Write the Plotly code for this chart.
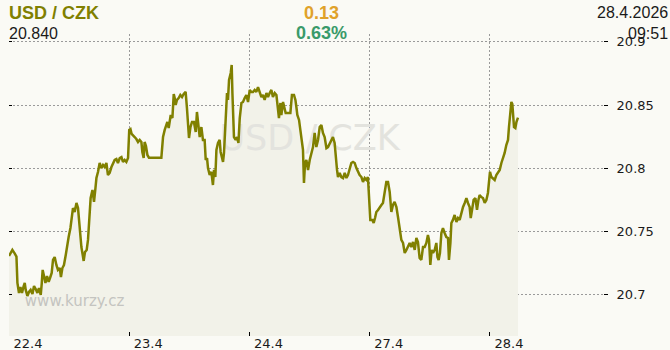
import plotly.graph_objects as go

# ---- data (USD/CZK intraday, position within trading day, rate) ----
day_labels = ["22.4", "23.4", "24.4", "27.4", "28.4"]

d22 = [(0.000,20.7307),(0.028,20.7355),(0.047,20.7328),(0.062,20.7302),(0.070,20.7094),(0.083,20.7015),
       (0.095,20.7062),(0.108,20.7015),(0.122,20.7070),(0.131,20.7094),(0.139,20.7039),(0.153,20.6991),
       (0.166,20.7023),(0.180,20.7039),(0.195,20.7007),(0.208,20.7070),(0.222,20.7046),(0.236,20.7015),
       (0.249,20.7054),(0.264,20.6999),(0.272,20.7086),(0.280,20.7197),(0.291,20.7149),(0.303,20.7094),
       (0.316,20.7149),(0.330,20.7102),(0.344,20.7141),(0.355,20.7173),(0.366,20.7276),(0.380,20.7299),
       (0.394,20.7236),(0.407,20.7197),(0.422,20.7212),(0.432,20.7141),(0.444,20.7212),(0.457,20.7236),
       (0.472,20.7315),(0.482,20.7394),(0.496,20.7457),(0.511,20.7528),(0.521,20.7631),(0.532,20.7686),
       (0.546,20.7655),(0.561,20.7726),(0.574,20.7686),(0.582,20.7592),(0.590,20.7497),(0.602,20.7378),
       (0.613,20.7315),(0.621,20.7268),(0.632,20.7339),(0.646,20.7355),(0.657,20.7434),(0.669,20.7576),
       (0.679,20.7765),(0.694,20.7829),(0.707,20.7734),(0.719,20.7844),(0.727,20.7923),(0.740,20.7971),
       (0.754,20.8042),(0.768,20.8002),(0.782,20.8026),(0.796,20.8010),(0.810,20.8042),(0.823,20.7947),
       (0.837,20.7963),(0.852,20.8010),(0.865,20.8042),(0.879,20.8066),(0.893,20.8073),(0.906,20.8042),
       (0.921,20.8081),(0.935,20.8089),(0.948,20.8050),(0.962,20.8066),(0.976,20.8050),(0.990,20.8081)]

d23 = [(0.000,20.8303),(0.010,20.8310),(0.020,20.8271),(0.031,20.8263),(0.045,20.8247),(0.059,20.8231),
       (0.073,20.8208),(0.087,20.8224),(0.101,20.8208),(0.109,20.8129),(0.120,20.8081),(0.128,20.8208),
       (0.139,20.8176),(0.151,20.8105),(0.164,20.8084),(0.267,20.8084),(0.272,20.8168),(0.281,20.8247),
       (0.295,20.8303),(0.309,20.8342),(0.317,20.8366),(0.328,20.8318),(0.336,20.8358),(0.345,20.8421),
       (0.359,20.8397),(0.370,20.8587),(0.378,20.8555),(0.386,20.8500),(0.397,20.8540),(0.411,20.8555),
       (0.425,20.8579),(0.439,20.8563),(0.453,20.8587),(0.469,20.8603),(0.480,20.8476),(0.489,20.8279),
       (0.497,20.8239),(0.509,20.8326),(0.522,20.8366),(0.538,20.8366),(0.553,20.8287),(0.563,20.8445),
       (0.575,20.8342),(0.586,20.8247),(0.600,20.8326),(0.613,20.8224),(0.627,20.8224),(0.636,20.8066),
       (0.647,20.8081),(0.655,20.8002),(0.669,20.7947),(0.683,20.7971),(0.696,20.7868),(0.705,20.7987),
       (0.716,20.7931),(0.725,20.8145),(0.738,20.8200),(0.752,20.8224),(0.760,20.8129),(0.771,20.8066),
       (0.780,20.8050),(0.788,20.8121),(0.794,20.8224),(0.802,20.8437),(0.813,20.8595),(0.821,20.8540),
       (0.830,20.8698),(0.844,20.8753),(0.852,20.8816),(0.858,20.8595),(0.863,20.8461),(0.871,20.8247),
       (0.885,20.8224),(0.896,20.8247),(0.908,20.8200),(0.919,20.8397),(0.933,20.8516),(0.946,20.8524),
       (0.960,20.8555),(0.974,20.8579),(0.988,20.8524)]

d24 = [(0.002,20.8619),(0.016,20.8603),(0.029,20.8603),(0.043,20.8619),(0.057,20.8603),(0.071,20.8642),
       (0.085,20.8595),(0.099,20.8563),(0.112,20.8579),(0.126,20.8540),(0.141,20.8595),(0.154,20.8563),
       (0.168,20.8595),(0.182,20.8619),(0.195,20.8563),(0.210,20.8595),(0.224,20.8579),(0.237,20.8484),
       (0.245,20.8397),(0.257,20.8516),(0.265,20.8421),(0.279,20.8524),(0.293,20.8476),(0.301,20.8437),
       (0.340,20.8437),(0.353,20.8579),(0.370,20.8579),(0.382,20.8540),(0.390,20.8484),(0.398,20.8421),
       (0.412,20.8382),(0.423,20.8303),(0.432,20.8247),(0.445,20.8145),(0.453,20.7884),(0.462,20.8042),
       (0.473,20.8066),(0.487,20.7987),(0.501,20.8066),(0.515,20.8121),(0.528,20.8168),(0.542,20.8279),
       (0.556,20.8168),(0.570,20.8224),(0.584,20.8326),(0.598,20.8342),(0.611,20.8279),(0.625,20.8247),
       (0.640,20.8160),(0.653,20.8168),(0.667,20.8200),(0.681,20.8224),(0.694,20.8247),(0.708,20.8200),
       (0.717,20.8066),(0.728,20.7987),(0.736,20.7931),(0.750,20.7963),(0.764,20.7931),(0.778,20.7923),
       (0.792,20.7963),(0.806,20.7923),(0.819,20.7947),(0.833,20.7987),(0.847,20.8042),(0.861,20.8050),
       (0.875,20.8042),(0.889,20.8002),(0.902,20.7971),(0.916,20.7947),(0.931,20.7931),(0.944,20.7892),
       (0.958,20.7923),(0.972,20.7908),(0.985,20.7931)]

d27 = [(0.000,20.7607),(0.005,20.7592),(0.022,20.7592),(0.033,20.7568),(0.044,20.7607),(0.055,20.7655),
       (0.069,20.7671),(0.083,20.7694),(0.097,20.7710),(0.110,20.7726),(0.124,20.7805),(0.138,20.7892),
       (0.152,20.7892),(0.166,20.7813),(0.180,20.7655),(0.193,20.7710),(0.207,20.7734),(0.222,20.7694),
       (0.235,20.7615),(0.249,20.7513),(0.263,20.7434),(0.277,20.7410),(0.291,20.7331),(0.305,20.7355),
       (0.318,20.7378),(0.332,20.7410),(0.346,20.7378),(0.360,20.7418),(0.374,20.7355),(0.388,20.7449),
       (0.401,20.7418),(0.415,20.7291),(0.429,20.7276),(0.443,20.7378),(0.457,20.7378),(0.471,20.7410),
       (0.484,20.7473),(0.493,20.7434),(0.504,20.7236),(0.515,20.7355),(0.526,20.7331),(0.540,20.7355),
       (0.554,20.7410),(0.563,20.7299),(0.573,20.7276),(0.584,20.7331),(0.596,20.7489),(0.609,20.7528),
       (0.623,20.7489),(0.637,20.7457),(0.651,20.7449),(0.659,20.7276),(0.671,20.7410),(0.679,20.7568),
       (0.692,20.7592),(0.706,20.7631),(0.721,20.7576),(0.734,20.7607),(0.748,20.7592),(0.762,20.7647),
       (0.776,20.7694),(0.790,20.7726),(0.804,20.7765),(0.817,20.7726),(0.831,20.7694),(0.840,20.7607),
       (0.850,20.7686),(0.864,20.7750),(0.879,20.7765),(0.892,20.7671),(0.904,20.7750),(0.914,20.7789),
       (0.928,20.7773),(0.942,20.7765),(0.956,20.7726),(0.970,20.7750),(0.983,20.7805),(0.992,20.7892)]

d28 = [(0.000,20.7971),(0.012,20.7931),(0.025,20.7923),(0.039,20.7908),(0.053,20.7947),(0.067,20.7971),
       (0.081,20.7987),(0.095,20.8042),(0.108,20.8081),(0.122,20.8121),(0.136,20.8184),(0.150,20.8224),
       (0.158,20.8326),(0.170,20.8461),(0.178,20.8524),(0.186,20.8508),(0.195,20.8421),(0.200,20.8326),
       (0.211,20.8318),(0.220,20.8366),(0.233,20.8400)]

days = [d22, d23, d24, d27, d28]
y_ticks = [20.7, 20.75, 20.8, 20.85, 20.9]
y_tick_text = ["20.7", "20.75", "20.8", "20.85", "20.9"]

pair_name = "USD / CZK"
change_abs = "0.13"
change_pct = "0.63%"
last_value = "20.840"
date_str = "28.4.2026"
time_str = "09:51"

# ---- build series ----
t = [i + p for i, d in enumerate(days) for p, _ in d]
rate = [v for d in days for _, v in d]

OLIVE = "#808000"
PAPER = "#fafaf5"
GRID = "#9a9a9a"

fig = go.Figure()

# filled area under the curve
fig.add_trace(go.Scatter(x=t, y=rate, mode="lines", line=dict(width=0, color=OLIVE),
                         fill="tozeroy", fillcolor="#f2f2e9", hoverinfo="skip", showlegend=False))

# watermarks (drawn beneath the line)
fig.add_trace(go.Scatter(x=[2.50], y=[20.8212], mode="text", text=[pair_name],
                         textfont=dict(family="DejaVu Sans", size=35, color="#e3e3de"),
                         hoverinfo="skip", showlegend=False, cliponaxis=False))
fig.add_trace(go.Scatter(x=[0.546], y=[20.6944], mode="text", text=["www.kurzy.cz"],
                         textfont=dict(family="DejaVu Sans", size=15, color="#c4c4c0"),
                         hoverinfo="skip", showlegend=False, cliponaxis=False))

# the rate line
fig.add_trace(go.Scatter(x=t, y=rate, mode="lines", line=dict(width=2.5, color=OLIVE),
                         hoverinfo="skip", showlegend=False))

# invisible trace for left tick axis
fig.add_trace(go.Scatter(x=t, y=rate, mode="lines", line=dict(width=0, color="rgba(0,0,0,0)"),
                         yaxis="y2", hoverinfo="skip", showlegend=False))

tick_font = dict(family="DejaVu Sans", size=13, color="#1a1a1a")

fig.update_layout(
    width=670, height=350,
    margin=dict(l=9, r=67, t=34, b=14),
    paper_bgcolor=PAPER, plot_bgcolor=PAPER,
    showlegend=False, hovermode=False,
    xaxis=dict(
        range=[0, 4.94], tickmode="array", tickvals=list(range(len(day_labels))),
        ticktext=day_labels, ticks="inside", ticklen=4, tickcolor="#000", tickwidth=1,
        showgrid=True, gridcolor=GRID, griddash="2px,2px", gridwidth=1,
        zeroline=False, showline=False, tickfont=tick_font, ticklabelshift=19,
        ticklabelstandoff=-2, fixedrange=True, automargin=False,
    ),
    yaxis=dict(
        range=[20.6675, 20.9061], side="right", tickmode="array", tickvals=y_ticks,
        ticktext=y_tick_text, ticks="outside", ticklen=4, tickcolor="#000", tickwidth=1,
        showgrid=True, gridcolor=GRID, griddash="2px,2px", gridwidth=1,
        zeroline=False, showline=False, tickfont=tick_font, ticklabelstandoff=6,
        fixedrange=True, automargin=False,
    ),
    yaxis2=dict(
        overlaying="y", matches="y", side="left", tickmode="array", tickvals=y_ticks,
        ticks="inside", ticklen=3, tickcolor="#000", tickwidth=1, showticklabels=False,
        showgrid=False, zeroline=False, showline=False, automargin=False,
    ),
)

def px_x(X):
    return (X - 9) / 594.0

def px_y(Y):
    return (336 - Y) / 302.0

head_font = "Liberation Sans"
annots = [
    dict(text="<b>" + pair_name + "</b>", x=px_x(8), y=px_y(13), xanchor="left",
         font=dict(family=head_font, size=18, color=OLIVE)),
    dict(text="<b>" + change_abs + "</b>", x=px_x(321), y=px_y(13), xanchor="center",
         font=dict(family=head_font, size=18, color="#e0a22a")),
    dict(text=date_str, x=px_x(669), y=px_y(13), xanchor="right",
         font=dict(family=head_font, size=16, color="#1a1a1a")),
    dict(text=last_value, x=px_x(8), y=px_y(33), xanchor="left",
         font=dict(family=head_font, size=16, color="#1a1a1a")),
    dict(text="<b>" + change_pct + "</b>", x=px_x(321), y=px_y(33), xanchor="center",
         font=dict(family=head_font, size=18, color="#3a9a6a")),
    dict(text=time_str, x=px_x(669), y=px_y(33), xanchor="right",
         font=dict(family=head_font, size=16, color="#1a1a1a")),
]
for a in annots:
    fig.add_annotation(xref="paper", yref="paper", yanchor="middle", showarrow=False,
                       borderpad=0, **a)

fig.write_html("out.html")
